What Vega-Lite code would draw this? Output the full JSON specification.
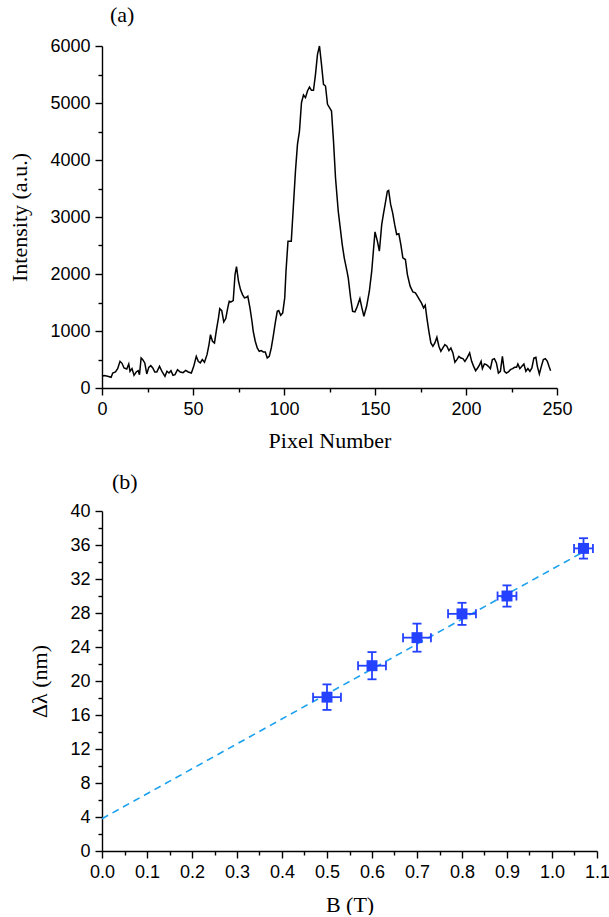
{
  "$schema": "https://vega.github.io/schema/vega-lite/v6.json",
  "padding": {"left": 8, "top": 4, "right": 0, "bottom": 0},
  "background": "white",
  "bounds": "flush",
  "spacing": 123,
  "datasets": {
    "profile": [
      {"px":0,"I":205},{"px":1.3,"I":217},{"px":3.1,"I":205},{"px":5,"I":187},{"px":5.9,"I":263},{"px":7.4,"I":281},{"px":8.6,"I":340},{"px":9.9,"I":468},{"px":11,"I":433},{"px":12.1,"I":351},{"px":13.6,"I":334},{"px":14.7,"I":421},{"px":15.4,"I":293},{"px":16.5,"I":340},{"px":17.6,"I":222},{"px":18.8,"I":281},{"px":19.9,"I":304},{"px":20.6,"I":234},{"px":21.5,"I":527},{"px":22.4,"I":498},{"px":23.5,"I":439},{"px":24.6,"I":246},{"px":25.7,"I":363},{"px":26.8,"I":392},{"px":27.9,"I":351},{"px":29,"I":281},{"px":30.1,"I":281},{"px":31.6,"I":380},{"px":33.1,"I":281},{"px":34.6,"I":205},{"px":35.7,"I":293},{"px":36.8,"I":263},{"px":37.9,"I":304},{"px":39,"I":222},{"px":40.1,"I":234},{"px":41.5,"I":322},{"px":43,"I":281},{"px":44.5,"I":269},{"px":46,"I":310},{"px":47.4,"I":281},{"px":49.1,"I":263},{"px":50.4,"I":380},{"px":51.8,"I":556},{"px":52.9,"I":468},{"px":54,"I":439},{"px":55.1,"I":498},{"px":56.3,"I":451},{"px":57.7,"I":585},{"px":58.8,"I":761},{"px":59.6,"I":937},{"px":60.7,"I":820},{"px":61.8,"I":790},{"px":62.9,"I":1024},{"px":64,"I":1229},{"px":64.7,"I":1393},{"px":65.8,"I":1358},{"px":66.9,"I":1159},{"px":68,"I":1218},{"px":69.1,"I":1405},{"px":69.9,"I":1522},{"px":70.9,"I":1510},{"px":72.1,"I":1534},{"px":73.1,"I":1990},{"px":73.9,"I":2131},{"px":75,"I":1873},{"px":76.1,"I":1727},{"px":77.2,"I":1639},{"px":78.3,"I":1581},{"px":79.4,"I":1592},{"px":80.1,"I":1610},{"px":81.3,"I":1405},{"px":82.4,"I":1171},{"px":83.1,"I":995},{"px":84.2,"I":820},{"px":85.3,"I":702},{"px":86.4,"I":644},{"px":87.5,"I":656},{"px":88.6,"I":632},{"px":89.7,"I":632},{"px":90.8,"I":527},{"px":91.9,"I":556},{"px":93,"I":702},{"px":94.1,"I":908},{"px":95.2,"I":1141},{"px":96.3,"I":1346},{"px":97.1,"I":1358},{"px":98.2,"I":1276},{"px":99.3,"I":1317},{"px":100.4,"I":1581},{"px":101.1,"I":2049},{"px":102.2,"I":2576},{"px":103.3,"I":2576},{"px":104,"I":2576},{"px":105.1,"I":3161},{"px":106.3,"I":3805},{"px":107.4,"I":4273},{"px":108.5,"I":4508},{"px":109.6,"I":5005},{"px":110.7,"I":5140},{"px":111.8,"I":5093},{"px":112.9,"I":5210},{"px":114,"I":5280},{"px":115.1,"I":5222},{"px":116.2,"I":5222},{"px":117.3,"I":5503},{"px":118.4,"I":5854},{"px":119.5,"I":6000},{"px":120.6,"I":5678},{"px":121.7,"I":5327},{"px":122.8,"I":5298},{"px":123.9,"I":4976},{"px":125,"I":4917},{"px":126.1,"I":4859},{"px":127.2,"I":4332},{"px":128.3,"I":3688},{"px":129.8,"I":3103},{"px":130.9,"I":2810},{"px":132,"I":2517},{"px":133.1,"I":2283},{"px":134.6,"I":2049},{"px":135.3,"I":1932},{"px":136.6,"I":1581},{"px":137.7,"I":1346},{"px":139,"I":1335},{"px":140.3,"I":1434},{"px":141.7,"I":1569},{"px":142.8,"I":1405},{"px":143.9,"I":1259},{"px":145.4,"I":1434},{"px":146.9,"I":1698},{"px":148.2,"I":2049},{"px":149.1,"I":2400},{"px":150,"I":2740},{"px":151.3,"I":2576},{"px":152.4,"I":2400},{"px":153.7,"I":2869},{"px":154.6,"I":3044},{"px":155.7,"I":3249},{"px":156.8,"I":3454},{"px":157.5,"I":3466},{"px":158.6,"I":3220},{"px":159.7,"I":3073},{"px":160.8,"I":2869},{"px":161.9,"I":2693},{"px":163.1,"I":2705},{"px":164.2,"I":2517},{"px":165.3,"I":2283},{"px":166.7,"I":2254},{"px":167.8,"I":1990},{"px":169.3,"I":1786},{"px":170.8,"I":1686},{"px":172.2,"I":1668},{"px":173.3,"I":1610},{"px":174.4,"I":1551},{"px":175.5,"I":1493},{"px":176.7,"I":1405},{"px":177.6,"I":1452},{"px":178.5,"I":1229},{"px":179.6,"I":995},{"px":180.7,"I":790},{"px":181.8,"I":732},{"px":182.9,"I":790},{"px":184,"I":890},{"px":185.1,"I":732},{"px":186.2,"I":644},{"px":187.3,"I":702},{"px":188.4,"I":761},{"px":189.5,"I":732},{"px":190.6,"I":656},{"px":191.7,"I":702},{"px":192.8,"I":615},{"px":193.9,"I":451},{"px":195,"I":498},{"px":196.1,"I":556},{"px":197.2,"I":527},{"px":198.3,"I":515},{"px":199.4,"I":468},{"px":200.6,"I":527},{"px":202,"I":615},{"px":203.1,"I":468},{"px":204.2,"I":380},{"px":205.3,"I":304},{"px":206.4,"I":351},{"px":207.5,"I":410},{"px":208.3,"I":468},{"px":209,"I":340},{"px":210.1,"I":421},{"px":211.2,"I":410},{"px":212.3,"I":380},{"px":213.4,"I":340},{"px":214.5,"I":498},{"px":215.6,"I":515},{"px":216.7,"I":439},{"px":217.8,"I":263},{"px":218.9,"I":293},{"px":220,"I":556},{"px":221.1,"I":293},{"px":222.2,"I":263},{"px":223.3,"I":281},{"px":224.4,"I":322},{"px":225.6,"I":340},{"px":226.7,"I":363},{"px":227.8,"I":363},{"px":228.5,"I":421},{"px":229.6,"I":340},{"px":230.7,"I":380},{"px":231.8,"I":421},{"px":232.9,"I":293},{"px":234,"I":340},{"px":235.1,"I":293},{"px":236.2,"I":351},{"px":237.3,"I":527},{"px":238.4,"I":539},{"px":239.2,"I":380},{"px":240.3,"I":246},{"px":241.4,"I":380},{"px":242.5,"I":498},{"px":243.6,"I":515},{"px":244.7,"I":468},{"px":245.6,"I":380},{"px":246.5,"I":304}
    ],
    "zeeman": [
      {"B":0.5,"Berr":0.031,"dl":18.1,"dlerr":1.5},
      {"B":0.6,"Berr":0.031,"dl":21.8,"dlerr":1.6},
      {"B":0.7,"Berr":0.031,"dl":25.1,"dlerr":1.65},
      {"B":0.8,"Berr":0.031,"dl":27.9,"dlerr":1.3},
      {"B":0.9,"Berr":0.021,"dl":30.0,"dlerr":1.25},
      {"B":1.07,"Berr":0.021,"dl":35.6,"dlerr":1.2}
    ],
    "fit": [
      {"B":0,"dl":3.8},
      {"B":1.07,"dl":35.2}
    ]
  },
  "vconcat": [
    {
      "width": 455,
      "height": 342,
      "title": {"text": "(a)", "anchor": "start", "frame": "group", "dx": 8, "offset": 10},
      "data": {"name": "profile"},
      "resolve": {"axis": {"x": "independent", "y": "independent"}},
      "layer": [
        {
          "mark": {"type": "line", "color": "black", "strokeWidth": 1.5},
          "encoding": {
            "x": {"field": "px", "type": "quantitative", "scale": {"domain": [0, 250], "nice": false, "zero": false},
                  "axis": {"orient": "bottom", "values": [0, 50, 100, 150, 200, 250], "format": "d", "title": "Pixel Number", "titlePadding": 12}},
            "y": {"field": "I", "type": "quantitative", "scale": {"domain": [0, 6000], "nice": false},
                  "axis": {"orient": "left", "values": [0, 1000, 2000, 3000, 4000, 5000, 6000], "format": "d", "title": "Intensity (a.u.)"}}
          }
        },
        {
          "mark": {"type": "point", "opacity": 0},
          "encoding": {
            "x": {"field": "px", "type": "quantitative",
                  "axis": {"orient": "bottom", "values": [25, 75, 125, 175, 225], "labels": false, "domain": false, "title": null, "tickSize": 4}},
            "y": {"field": "I", "type": "quantitative",
                  "axis": {"orient": "left", "values": [500, 1500, 2500, 3500, 4500, 5500], "labels": false, "domain": false, "title": null, "tickSize": 4}}
          }
        }
      ]
    },
    {
      "width": 495,
      "height": 340,
      "title": {"text": "(b)", "anchor": "start", "frame": "group", "dx": 10, "offset": 8},
      "resolve": {"axis": {"x": "independent", "y": "independent"}},
      "layer": [
        {
          "data": {"name": "fit"},
          "mark": {"type": "line", "color": "#1ba1ee", "strokeWidth": 1.6, "strokeDash": [7, 5]},
          "encoding": {
            "x": {"field": "B", "type": "quantitative", "scale": {"domain": [0, 1.1], "nice": false},
                  "axis": {"orient": "bottom", "values": [0, 0.1, 0.2, 0.3, 0.4, 0.5, 0.6, 0.7, 0.8, 0.9, 1.0, 1.1], "format": ".1f", "title": "B (T)", "titlePadding": 13}},
            "y": {"field": "dl", "type": "quantitative", "scale": {"domain": [0, 40], "nice": false},
                  "axis": {"orient": "left", "values": [0, 4, 8, 12, 16, 20, 24, 28, 32, 36, 40], "format": "d", "title": "Δλ (nm)"}}
          }
        },
        {
          "data": {"name": "zeeman"},
          "mark": {"type": "point", "opacity": 0},
          "encoding": {
            "x": {"field": "B", "type": "quantitative",
                  "axis": {"orient": "bottom", "values": [0.05, 0.15, 0.25, 0.35, 0.45, 0.55, 0.65, 0.75, 0.85, 0.95, 1.05], "labels": false, "domain": false, "title": null, "tickSize": 4}},
            "y": {"field": "dl", "type": "quantitative",
                  "axis": {"orient": "left", "values": [2, 6, 10, 14, 18, 22, 26, 30, 34, 38], "labels": false, "domain": false, "title": null, "tickSize": 4}}
          }
        },
        {
          "data": {"name": "zeeman"},
          "mark": {"type": "errorbar", "color": "#2441ff", "opacity": 1, "thickness": 1.8, "rule": {"opacity": 1}, "ticks": {"size": 9, "thickness": 1.8, "color": "#2441ff", "opacity": 1}},
          "encoding": {
            "x": {"field": "B", "type": "quantitative", "axis": null},
            "y": {"field": "dl", "type": "quantitative", "axis": null},
            "yError": {"field": "dlerr"}
          }
        },
        {
          "data": {"name": "zeeman"},
          "mark": {"type": "errorbar", "color": "#2441ff", "opacity": 1, "thickness": 1.8, "rule": {"opacity": 1}, "ticks": {"size": 9, "thickness": 1.8, "color": "#2441ff", "opacity": 1}},
          "encoding": {
            "y": {"field": "dl", "type": "quantitative", "axis": null},
            "x": {"field": "B", "type": "quantitative", "axis": null},
            "xError": {"field": "Berr"}
          }
        },
        {
          "data": {"name": "zeeman"},
          "mark": {"type": "point", "shape": "square", "filled": true, "size": 120, "color": "#2441ff", "opacity": 1},
          "encoding": {
            "x": {"field": "B", "type": "quantitative", "axis": null},
            "y": {"field": "dl", "type": "quantitative", "axis": null}
          }
        }
      ]
    }
  ],
  "config": {
    "view": {"stroke": null},
    "title": {"font": "Liberation Serif", "fontSize": 22, "fontWeight": "normal", "color": "black", "baseline": "bottom"},
    "axis": {
      "grid": false,
      "domainColor": "black",
      "domainWidth": 1.4,
      "tickColor": "black",
      "tickWidth": 1.4,
      "tickSize": 7,
      "labelFont": "Liberation Sans",
      "labelFontSize": 18,
      "labelColor": "black",
      "labelPadding": 5,
      "labelFlush": false,
      "labelOverlap": false,
      "titleFont": "Liberation Serif",
      "titleFontSize": 22,
      "titleFontWeight": "normal",
      "titleColor": "black",
      "titlePadding": 18
    }
  }
}
